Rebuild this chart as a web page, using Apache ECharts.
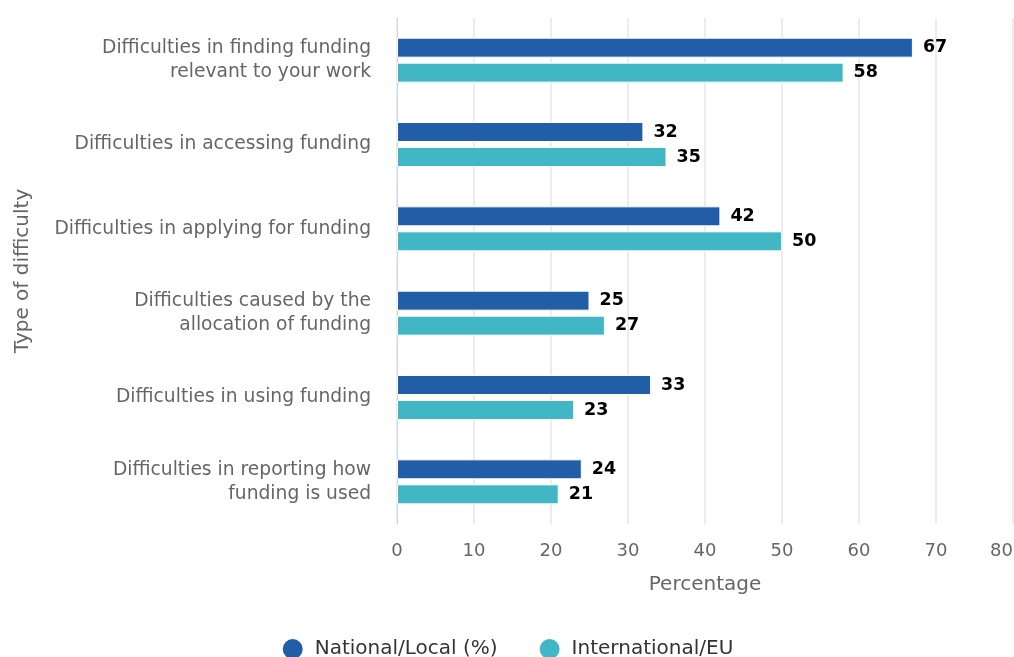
<!DOCTYPE html>
<html><head><meta charset="utf-8">
<script src="https://cdn.jsdelivr.net/npm/echarts@6/dist/echarts.min.js"></script>
<style>html,body{margin:0;padding:0;background:#fff}#c{width:1014px;height:657px}</style>
</head><body><div id="c"></div>
<script>
const categories = [
  "Difficulties in finding funding\nrelevant to your work",
  "Difficulties in accessing funding",
  "Difficulties in applying for funding",
  "Difficulties caused by the\nallocation of funding",
  "Difficulties in using funding",
  "Difficulties in reporting how\nfunding is used"
];
const nationalLocal = [67, 32, 42, 25, 33, 24];
const internationalEU = [58, 35, 50, 27, 23, 21];
const xTicks = [0, 10, 20, 30, 40, 50, 60, 70, 80];

const font = "'DejaVu Sans', sans-serif";
const chart = echarts.init(document.getElementById('c'));
const labelStyle = {show: true, position: 'right', distance: 10, color: '#000', fontWeight: 'bold', fontSize: 17.5, fontFamily: font};
chart.setOption({
  animation: false,
  grid: {left: 397, right: 1, top: 18, bottom: 133, outerBoundsMode: 'none'},
  legend: {
    bottom: -9, itemGap: 40, icon: 'circle', itemWidth: 22, itemHeight: 22,
    textStyle: {fontSize: 20, color: '#333', fontFamily: font, padding: [0, 0, 0, 6]}
  },
  xAxis: {
    type: 'value', min: 0, max: 80, interval: 10,
    name: 'Percentage', nameLocation: 'middle', nameGap: 51,
    nameTextStyle: {fontSize: 20, color: '#666', fontFamily: font},
    axisLabel: {fontSize: 18, color: '#666', fontFamily: font, margin: 18, alignMaxLabel: 'right',
      formatter: v => xTicks.includes(v) ? String(v) : ''},
    splitLine: {lineStyle: {color: '#e6e6e6', width: 1.5}},
    axisLine: {show: false}, axisTick: {show: false}
  },
  yAxis: {
    type: 'category', data: categories, inverse: true,
    name: 'Type of difficulty', nameLocation: 'middle', nameGap: 364,
    nameTextStyle: {fontSize: 20, color: '#666', fontFamily: font},
    axisLabel: {fontSize: 18.7, color: '#666', fontFamily: font, margin: 26, lineHeight: 24, align: 'right'},
    axisLine: {lineStyle: {color: '#ccd6eb'}}, axisTick: {show: false}
  },
  series: [
    {name: 'National/Local (%)', type: 'bar', data: nationalLocal, barWidth: 20, barGap: '25%',
     itemStyle: {color: '#225ea8', borderColor: '#fff', borderWidth: 1}, label: labelStyle},
    {name: 'International/EU', type: 'bar', data: internationalEU, barWidth: 20,
     itemStyle: {color: '#41b6c4', borderColor: '#fff', borderWidth: 1}, label: labelStyle}
  ]
});
</script></body></html>
